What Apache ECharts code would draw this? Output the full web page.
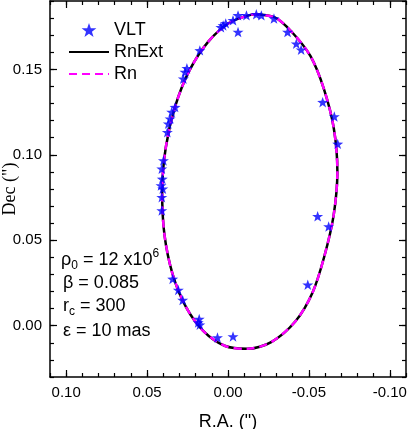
<!DOCTYPE html>
<html><head><meta charset="utf-8">
<script src="https://cdn.jsdelivr.net/npm/echarts@6/dist/echarts.min.js"></script>
<style>html,body{margin:0;padding:0;background:#fff}#c{width:408px;height:429px}</style>
</head><body><div id="c"></div>
<script>
// VLT observations (R.A., Dec in arcsec)
const vltRA = [-0.0062,-0.0114,-0.0175,-0.0206,-0.0284,0.0030,0.0044,0.0014,-0.0031,-0.0062,0.0174,-0.0368,-0.0422,-0.0452,
  0.0266,0.0276,0.0254,0.0327,0.0348,0.0358,0.0369,0.0375,
  0.0399,0.0409,0.0406,0.0414,0.0403,0.0409,0.0409,
  0.0342,0.0307,0.0280,0.0178,0.0184,0.0174,0.0065,-0.0031,
  -0.0585,-0.0657,-0.0678,-0.0554,-0.0622,-0.0493];
const vltDec = [0.1816,0.1816,0.1822,0.1816,0.1797,0.1757,0.1746,0.1769,0.1787,0.1718,0.1611,0.1718,0.1650,0.1615,
  0.1484,0.1445,0.1506,0.1279,0.1250,0.1211,0.1182,0.1132,
  0.0967,0.0918,0.0859,0.0820,0.0801,0.0752,0.0674,
  0.0274,0.0209,0.0150,0.0039,0.0019,0.0006,-0.0069,-0.0063,
  0.1308,0.1224,0.1064,0.0640,0.0580,0.0240];
// Model orbits (RnExt and Rn overlap), read around the curve clockwise from the top
const rnExtRA = [-0.0150,-0.0289,-0.0393,-0.0510,-0.0593,-0.0654,-0.0676,-0.0653,-0.0595,-0.0522,-0.0417,-0.0270,-0.0119,0.0021,0.0150,0.0260,0.0343,0.0393,0.0407,0.0385,0.0327,0.0238,0.0123,-0.0009,-0.0150];
const rnExtDec = [0.1822,0.1804,0.1720,0.1577,0.1384,0.1154,0.0902,0.0647,0.0405,0.0193,0.0026,-0.0094,-0.0135,-0.0117,-0.0033,0.0110,0.0304,0.0534,0.0785,0.1040,0.1282,0.1494,0.1661,0.1773,0.1822];
const rnRA = rnExtRA.slice();
const rnDec = rnExtDec.slice();
const xMajorTicks = [-0.10,-0.05,0.00,0.05,0.10];
const yMajorTicks = [0.00,0.05,0.10,0.15];

const zip = (a,b) => a.map((v,i)=>[v,b[i]]);
const STAR = 'path://M0,-10 L2.35,-3.24 L9.51,-3.09 L3.8,1.24 L5.88,8.09 L0,4 L-5.88,8.09 L-3.8,1.24 L-9.51,-3.09 L-2.35,-3.24 Z';
const SANS = 'Liberation Sans, Arial, sans-serif';
const fmt = v => (Math.abs(v) < 1e-9 ? 0 : v).toFixed(2);

function xAx(pos, major, line, label) {
  return {
    type:'value', position:pos, inverse:true, min:-0.11, max:0.11, interval:0.01,
    splitLine:{show:false},
    axisLine:{show:line, onZero:false, lineStyle:{color:'#000', width:1.5}},
    axisTick:major ? {show:true, inside:true, length:7, customValues:xMajorTicks, lineStyle:{color:'#000', width:1.2}}
                   : {show:true, inside:true, length:4, lineStyle:{color:'#000', width:1.2}},
    axisLabel:label ? {show:true, customValues:xMajorTicks, formatter:fmt, margin:8, color:'#000', fontSize:15, fontFamily:SANS}
                    : {show:false},
    name: label ? 'R.A. (")' : '', nameLocation:'middle', nameGap:36, nameMoveOverlap:false,
    nameTextStyle:{color:'#000', fontSize:18, fontFamily:SANS}
  };
}
function yAx(pos, major, line, label) {
  return {
    type:'value', position:pos, min:-0.03, max:0.19, interval:0.01,
    splitLine:{show:false},
    axisLine:{show:line, onZero:false, lineStyle:{color:'#000', width:1.5}},
    axisTick:major ? {show:true, inside:true, length:7, customValues:yMajorTicks, lineStyle:{color:'#000', width:1.2}}
                   : {show:true, inside:true, length:4, lineStyle:{color:'#000', width:1.2}},
    axisLabel:label ? {show:true, customValues:yMajorTicks, formatter:fmt, margin:8, color:'#000', fontSize:15, fontFamily:SANS}
                    : {show:false},
    name: label ? 'Dec (")' : '', nameLocation:'middle', nameGap:31, nameRotate:90, nameMoveOverlap:false,
    nameTextStyle:{color:'#000', fontSize:18, fontFamily:'Liberation Serif, Times New Roman, serif'}
  };
}

const chart = echarts.init(document.getElementById('c'), null, {renderer:'canvas'});
const rich = {
  b:{fontSize:18, fontFamily:SANS, color:'#000', lineHeight:24, verticalAlign:'middle'},
  sub:{fontSize:12, fontFamily:SANS, color:'#000', lineHeight:12, verticalAlign:'bottom'},
  sup:{fontSize:12, fontFamily:SANS, color:'#000', lineHeight:12, verticalAlign:'top'}
};
function ann(x, y, text) {
  return {type:'text', x:x, y:y, z:10, style:{text:text, rich:rich, verticalAlign:'middle', align:'left', fill:'#000', font:'18px ' + SANS}};
}
chart.setOption({
  animation:false,
  backgroundColor:'#fff',
  grid:{left:50, right:2, top:1, bottom:52, containLabel:false, outerBoundsMode:'none'},
  xAxis:[xAx('bottom',false,true,true), xAx('bottom',true,false,false), xAx('top',false,true,false), xAx('top',true,false,false)],
  yAxis:[yAx('left',false,true,true), yAx('left',true,false,false), yAx('right',false,true,false), yAx('right',true,false,false)],
  legend:{
    orient:'vertical', left:63, top:16, itemWidth:40, itemHeight:14, itemGap:4,
    textStyle:{fontSize:18, fontFamily:SANS, color:'#000'},
    data:['VLT', {name:'RnExt', itemStyle:{opacity:0}}, {name:'Rn', itemStyle:{opacity:0}}]
  },
  series:[
    {name:'RnExt', type:'line', xAxisIndex:0, yAxisIndex:0, data:zip(rnExtRA, rnExtDec), smooth:0.3,
     symbol:'none', showSymbol:false, lineStyle:{color:'#000', width:2.5}, itemStyle:{color:'#000'}, z:1},
    {name:'Rn', type:'line', xAxisIndex:0, yAxisIndex:0, data:zip(rnRA, rnDec), smooth:0.3,
     symbol:'none', showSymbol:false, lineStyle:{color:'#ff00ff', width:2.5, type:[8,5]}, itemStyle:{color:'#ff00ff'}, z:2},
    {name:'VLT', type:'scatter', xAxisIndex:0, yAxisIndex:0, data:zip(vltRA, vltDec), symbol:STAR, symbolSize:11,
     symbolKeepAspect:true, itemStyle:{color:'#0000ff'}, z:3}
  ],
  graphic:[
    ann(61, 260, '{b|ρ}{sub|0}{b| = 12 x10}{sup|6}'),
    ann(63, 283, '{b|β = 0.085}'),
    ann(63, 306, '{b|r}{sub|c}{b| = 300}'),
    ann(63, 331, '{b|ε = 10 mas}')
  ]
});
</script></body></html>
